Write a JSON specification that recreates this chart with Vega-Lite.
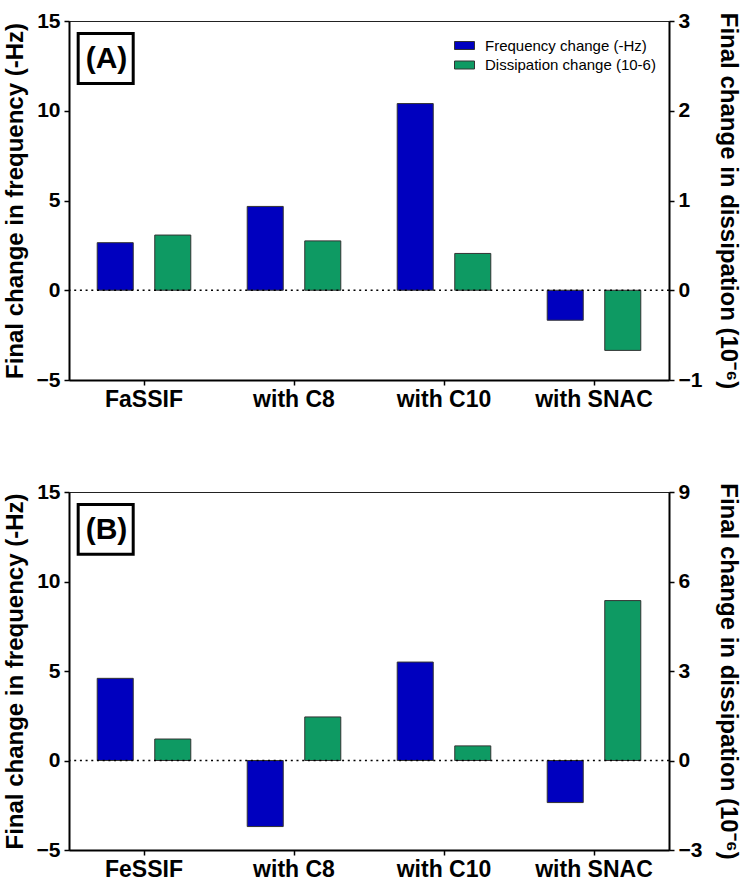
{
  "$schema": "https://vega.github.io/schema/vega-lite/v6.json",
  "padding": {"left": 2, "top": 9, "right": 0, "bottom": 0},
  "background": "white",
  "datasets": {
    "A": [
      {"category": "FaSSIF", "series": "Frequency change (-Hz)", "value": 2.65},
      {"category": "FaSSIF", "series": "Dissipation change (10-6)", "value": 0.615},
      {"category": "with C8", "series": "Frequency change (-Hz)", "value": 4.67},
      {"category": "with C8", "series": "Dissipation change (10-6)", "value": 0.55},
      {"category": "with C10", "series": "Frequency change (-Hz)", "value": 10.4},
      {"category": "with C10", "series": "Dissipation change (10-6)", "value": 0.41},
      {"category": "with SNAC", "series": "Frequency change (-Hz)", "value": -1.67},
      {"category": "with SNAC", "series": "Dissipation change (10-6)", "value": -0.67}
    ],
    "B": [
      {"category": "FeSSIF", "series": "Frequency change (-Hz)", "value": 4.59},
      {"category": "FeSSIF", "series": "Dissipation change (10-6)", "value": 0.72},
      {"category": "with C8", "series": "Frequency change (-Hz)", "value": -3.69},
      {"category": "with C8", "series": "Dissipation change (10-6)", "value": 1.46},
      {"category": "with C10", "series": "Frequency change (-Hz)", "value": 5.5},
      {"category": "with C10", "series": "Dissipation change (10-6)", "value": 0.49},
      {"category": "with SNAC", "series": "Frequency change (-Hz)", "value": -2.35},
      {"category": "with SNAC", "series": "Dissipation change (10-6)", "value": 5.36}
    ]
  },
  "config": {
    "view": {"stroke": "#222", "strokeWidth": 1},
    "axis": {
      "grid": false,
      "domainColor": "black",
      "domainWidth": 2,
      "tickColor": "black",
      "tickWidth": 1.5,
      "tickSize": 5,
      "labelPadding": 4,
      "labelFont": "Liberation Sans",
      "labelFontWeight": "bold",
      "labelColor": "black",
      "titleFont": "Liberation Sans",
      "titleFontWeight": "bold",
      "titleColor": "black",
      "titleFontSize": 24
    },
    "legend": {
      "orient": "none",
      "legendX": 385,
      "legendY": 14,
      "padding": 0,
      "title": null,
      "symbolType": "M-1,-0.4H1V0.4H-1Z",
      "symbolSize": 400,
      "symbolStrokeColor": "#333",
      "symbolStrokeWidth": 1,
      "symbolOpacity": 1,
      "labelFont": "Liberation Sans",
      "labelFontSize": 15,
      "labelColor": "black",
      "labelLimit": 0,
      "labelOffset": 10,
      "rowPadding": 0.5
    }
  },
  "spacing": 68,
  "vconcat": [
    {
      "width": 600,
      "height": 359,
      "data": {"name": "A"},
      "layer": [
        {
          "transform": [{"filter": "datum.series == 'Frequency change (-Hz)'"}],
          "mark": {"type": "bar", "stroke": "#333", "strokeWidth": 1},
          "encoding": {
            "x": {"field": "category", "type": "nominal", "sort": null,
              "scale": {"domain": ["FaSSIF", "with C8", "with C10", "with SNAC"], "paddingInner": 0, "paddingOuter": 0},
              "axis": {"title": null, "labelAngle": 0, "labelFontSize": 23, "labelPadding": 3}},
            "xOffset": {"field": "series", "type": "nominal",
              "scale": {"domain": ["Frequency change (-Hz)", "Dissipation change (10-6)"], "paddingInner": 0.374, "paddingOuter": 0.49}},
            "y": {"field": "value", "type": "quantitative",
              "scale": {"domain": [-5, 15], "nice": false, "zero": false},
              "axis": {"title": "Final change in frequency (-Hz)", "values": [-5, 0, 5, 10, 15], "labelFontSize": 21, "titlePadding": 9}},
            "color": {"field": "series", "type": "nominal",
              "scale": {"domain": ["Frequency change (-Hz)", "Dissipation change (10-6)"], "range": ["#0000BF", "#0E9A63"]}}
          }
        },
        {
          "transform": [{"filter": "datum.series == 'Dissipation change (10-6)'"}],
          "mark": {"type": "bar", "stroke": "#333", "strokeWidth": 1},
          "encoding": {
            "x": {"field": "category", "type": "nominal", "sort": null,
              "scale": {"domain": ["FaSSIF", "with C8", "with C10", "with SNAC"], "paddingInner": 0, "paddingOuter": 0},
              "axis": null},
            "xOffset": {"field": "series", "type": "nominal",
              "scale": {"domain": ["Frequency change (-Hz)", "Dissipation change (10-6)"], "paddingInner": 0.374, "paddingOuter": 0.49}},
            "y": {"field": "value", "type": "quantitative",
              "scale": {"domain": [-1, 3], "nice": false, "zero": false},
              "axis": {"orient": "right", "title": "Final change in dissipation (10⁻⁶)", "values": [-1, 0, 1, 2, 3], "labelFontSize": 21, "titlePadding": 14}},
            "color": {"field": "series", "type": "nominal",
              "scale": {"domain": ["Frequency change (-Hz)", "Dissipation change (10-6)"], "range": ["#0000BF", "#0E9A63"]}}
          }
        },
        {
          "data": {"values": [{}]},
          "mark": {"type": "rule", "color": "black", "strokeWidth": 1.5, "strokeDash": [2, 3.7]},
          "encoding": {
            "y": {"datum": 0, "type": "quantitative", "scale": {"domain": [-5, 15], "nice": false}, "axis": null}
          }
        },
        {
          "data": {"values": [{}]},
          "mark": {"type": "rect", "fill": null, "stroke": "black", "strokeWidth": 3},
          "encoding": {
            "x": {"datum": 0.0153, "type": "quantitative", "scale": {"domain": [0, 1], "nice": false}, "axis": null},
            "x2": {"datum": 0.107},
            "y": {"datum": 11.52, "type": "quantitative", "scale": {"domain": [-5, 15], "nice": false}, "axis": null},
            "y2": {"datum": 14.3}
          }
        },
        {
          "data": {"values": [{}]},
          "mark": {"type": "text", "text": "(A)", "font": "Liberation Sans", "fontWeight": "bold", "fontSize": 30, "baseline": "middle", "align": "center", "color": "black"},
          "encoding": {
            "x": {"datum": 0.0625, "type": "quantitative", "scale": {"domain": [0, 1], "nice": false}, "axis": null},
            "y": {"datum": 12.86, "type": "quantitative", "scale": {"domain": [-5, 15], "nice": false}, "axis": null}
          }
        }
      ],
      "resolve": {"scale": {"x": "independent", "y": "independent"}}
    },
    {
      "width": 600,
      "height": 358,
      "data": {"name": "B"},
      "layer": [
        {
          "transform": [{"filter": "datum.series == 'Frequency change (-Hz)'"}],
          "mark": {"type": "bar", "stroke": "#333", "strokeWidth": 1},
          "encoding": {
            "x": {"field": "category", "type": "nominal", "sort": null,
              "scale": {"domain": ["FeSSIF", "with C8", "with C10", "with SNAC"], "paddingInner": 0, "paddingOuter": 0},
              "axis": {"title": null, "labelAngle": 0, "labelFontSize": 23, "labelPadding": 3}},
            "xOffset": {"field": "series", "type": "nominal",
              "scale": {"domain": ["Frequency change (-Hz)", "Dissipation change (10-6)"], "paddingInner": 0.374, "paddingOuter": 0.49}},
            "y": {"field": "value", "type": "quantitative",
              "scale": {"domain": [-5, 15], "nice": false, "zero": false},
              "axis": {"title": "Final change in frequency (-Hz)", "values": [-5, 0, 5, 10, 15], "labelFontSize": 21, "titlePadding": 9}},
            "color": {"field": "series", "type": "nominal",
              "scale": {"domain": ["Frequency change (-Hz)", "Dissipation change (10-6)"], "range": ["#0000BF", "#0E9A63"]}}
          }
        },
        {
          "transform": [{"filter": "datum.series == 'Dissipation change (10-6)'"}],
          "mark": {"type": "bar", "stroke": "#333", "strokeWidth": 1},
          "encoding": {
            "x": {"field": "category", "type": "nominal", "sort": null,
              "scale": {"domain": ["FeSSIF", "with C8", "with C10", "with SNAC"], "paddingInner": 0, "paddingOuter": 0},
              "axis": null},
            "xOffset": {"field": "series", "type": "nominal",
              "scale": {"domain": ["Frequency change (-Hz)", "Dissipation change (10-6)"], "paddingInner": 0.374, "paddingOuter": 0.49}},
            "y": {"field": "value", "type": "quantitative",
              "scale": {"domain": [-3, 9], "nice": false, "zero": false},
              "axis": {"orient": "right", "title": "Final change in dissipation (10⁻⁶)", "values": [-3, 0, 3, 6, 9], "labelFontSize": 21, "titlePadding": 14}},
            "color": {"field": "series", "type": "nominal",
              "scale": {"domain": ["Frequency change (-Hz)", "Dissipation change (10-6)"], "range": ["#0000BF", "#0E9A63"]}}
          }
        },
        {
          "data": {"values": [{}]},
          "mark": {"type": "rule", "color": "black", "strokeWidth": 1.5, "strokeDash": [2, 3.7]},
          "encoding": {
            "y": {"datum": 0, "type": "quantitative", "scale": {"domain": [-5, 15], "nice": false}, "axis": null}
          }
        },
        {
          "data": {"values": [{}]},
          "mark": {"type": "rect", "fill": null, "stroke": "black", "strokeWidth": 3},
          "encoding": {
            "x": {"datum": 0.0153, "type": "quantitative", "scale": {"domain": [0, 1], "nice": false}, "axis": null},
            "x2": {"datum": 0.107},
            "y": {"datum": 11.52, "type": "quantitative", "scale": {"domain": [-5, 15], "nice": false}, "axis": null},
            "y2": {"datum": 14.3}
          }
        },
        {
          "data": {"values": [{}]},
          "mark": {"type": "text", "text": "(B)", "font": "Liberation Sans", "fontWeight": "bold", "fontSize": 30, "baseline": "middle", "align": "center", "color": "black"},
          "encoding": {
            "x": {"datum": 0.0625, "type": "quantitative", "scale": {"domain": [0, 1], "nice": false}, "axis": null},
            "y": {"datum": 12.86, "type": "quantitative", "scale": {"domain": [-5, 15], "nice": false}, "axis": null}
          }
        }
      ],
      "resolve": {"scale": {"x": "independent", "y": "independent"}}
    }
  ]
}
